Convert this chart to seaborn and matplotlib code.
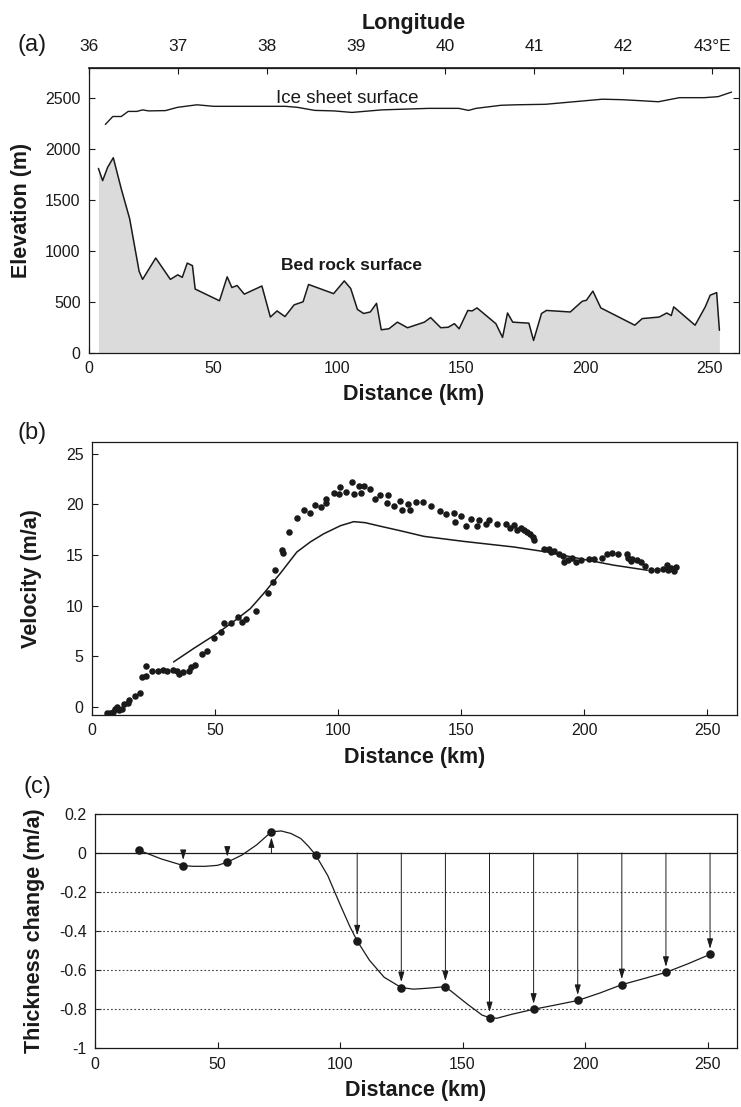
import numpy as np
import matplotlib
matplotlib.use("Agg")
import matplotlib.pyplot as plt
import seaborn as sns

# (a) elevation profiles
ice_km = [6.6, 9.6, 13, 15.8, 19.3, 21.6, 24, 30.8, 35.7, 43.5, 50.3, 79.3, 84, 91, 98.7, 106, 118,
          137, 149, 153, 156, 166, 172, 184, 195.5, 207, 215, 222.5, 229.5, 238, 248, 253.6, 259]
ice_m = [2242, 2320, 2320, 2370, 2370, 2385, 2375, 2378, 2410, 2435, 2420, 2420, 2410, 2380, 2375, 2360, 2385,
         2400, 2400, 2380, 2400, 2430, 2435, 2440, 2465, 2490, 2485, 2475, 2465, 2505, 2505, 2515, 2560]
bed_km = [3.8, 5.5, 7.5, 9.8, 13.0, 16.4, 20.2, 21.6, 26.9, 32.8, 35.8, 37.6, 39.6, 41.7, 42.8, 52.6, 55.7,
          57.6, 59.7, 62.6, 69.7, 73.1, 75.8, 79.0, 82.7, 86.3, 88.5, 98.6, 102.9, 105.5, 108.2, 110.7, 113.4,
          115.9, 117.8, 120.9, 124.3, 128.4, 135.2, 137.7, 141.8, 144.8, 147.3, 149.2, 152.7, 154.4, 156.4,
          164.0, 166.7, 168.7, 170.8, 177.3, 179.2, 182.4, 184.4, 194.0, 198.8, 200.5, 203.1, 206.3, 220.0,
          223.0, 229.8, 232.9, 234.7, 235.7, 244.3, 248.4, 250.4, 253.0, 254.1]
bed_m = [1810, 1690, 1820, 1915, 1610, 1315, 800, 720, 930, 720, 765, 740, 880, 855, 625, 510, 745,
         640, 660, 575, 655, 350, 410, 355, 470, 500, 670, 580, 705, 630, 425, 385, 400,
         485, 225, 235, 300, 245, 300, 345, 245, 250, 285, 235, 415, 410, 440,
         285, 150, 390, 300, 290, 120, 385, 415, 400, 505, 515, 605, 440, 270,
         335, 350, 390, 365, 450, 270, 450, 565, 590, 220]
lon_ticks = [36, 37, 38, 39, 40, 41, 42, 43]
lon_labels = ["36", "37", "38", "39", "40", "41", "42", "43\u00b0E"]
KM_PER_DEG = 35.9

# (b) velocity: observed points and model line
obs_km = [6.2, 7.3, 8.7, 9.35, 10.3, 11.1, 12.1, 13.0, 14.8, 15.2, 17.5, 19.5, 20.2, 22, 22, 24.3, 26.6,
          28.7, 30.6, 32.8, 34.7, 35.5, 36.9, 39.2, 40.3, 41.9, 44.6, 46.9, 49.6, 52.3, 53.7, 56.4, 59.1,
          60.9, 62.6, 66.6, 71.3, 73.7, 74.4, 77.1, 77.6, 80.2, 83.2, 86.3, 88.6, 90.7, 92.9, 95, 95, 98.1,
          100.2, 100.8, 103.3, 105.6, 106.5, 108.3, 109.3, 110.3, 113.1, 115.1, 117.1, 120.1, 119.8, 122.5,
          125, 125.9, 128.2, 129.3, 131.4, 134.5, 137.5, 141.5, 143.8, 146.9, 147.6, 149.7, 152.1, 154,
          156.4, 157.1, 160.2, 161.2, 164.6, 168, 169.7, 171.3, 172.7, 174.1, 175.4, 176.8, 178.1, 179.2,
          179.7, 183.5, 185.6, 186.3, 187.6, 189.6, 191.4, 191.7, 193.3, 195.1, 196.8, 198.5, 201.8, 203.9,
          207.3, 209.3, 211.3, 213.6, 217.2, 217.7, 218.8, 219.5, 221.2, 223.1, 224.5, 227.2, 229.4, 232.1,
          233.4, 234, 235.3, 236.4, 237.1]
obs_vel = [-0.65, -0.6, -0.5, -0.16, 0, -0.3, -0.2, 0.27, 0.4, 0.72, 1.05, 1.38, 2.96, 3.03, 4.05, 3.52, 3.52,
           3.69, 3.52, 3.69, 3.55, 3.23, 3.46, 3.55, 3.95, 4.18, 5.2, 5.5, 6.78, 7.44, 8.3, 8.3, 8.9,
           8.4, 8.73, 9.48, 11.25, 12.3, 13.56, 15.47, 15.2, 17.27, 18.7, 19.5, 19.15, 19.9, 19.74, 20.14, 20.57, 21.1,
           21.07, 21.7, 21.2, 22.2, 21.0, 21.8, 21.1, 21.8, 21.56, 20.57, 20.9, 20.9, 20.14, 19.8,
           20.3, 19.5, 20.0, 19.5, 20.24, 20.24, 19.8, 19.35, 19.1, 19.2, 18.3, 18.85, 17.84, 18.53,
           17.84, 18.43, 18.1, 18.43, 18.1, 18.03, 17.67, 17.97, 17.44, 17.7, 17.5, 17.3, 17.1, 16.8,
           16.5, 15.6, 15.6, 15.3, 15.4, 15.14, 14.88, 14.3, 14.5, 14.7, 14.3, 14.5, 14.65, 14.65,
           14.7, 15.07, 15.2, 15.14, 15.07, 14.7, 14.45, 14.6, 14.5, 14.35, 13.9, 13.5, 13.5, 13.6,
           14.0, 13.5, 13.75, 13.4, 13.8]
model_km = [33.1, 41.2, 50.7, 58.2, 64.3, 69.7, 76.5, 83.2, 88.7, 94.1, 100.9, 106.3, 111, 117.1, 125.3,
            134.8, 151, 171.3, 184.9, 201.2, 212, 225.6]
model_vel = [4.44, 5.76, 7.24, 8.56, 9.71, 11.2, 13.2, 15.3, 16.3, 17.1, 17.9, 18.3, 18.2, 17.85, 17.4,
             16.85, 16.35, 15.8, 15.3, 14.5, 14.0, 13.5]

# (c) thickness change at stations, and the drawn curve
stn_km = [18, 36, 54, 72, 90, 107, 125, 143, 161, 179, 197, 215, 233, 251]
stn_dh = [0.014, -0.064, -0.047, 0.109, -0.009, -0.45, -0.689, -0.684, -0.843, -0.80, -0.755, -0.674, -0.611, -0.519]
curve_km = [18, 27, 36, 40, 45, 50, 54, 60, 66, 72, 76, 80, 84, 87, 90, 95, 100, 104, 107, 112, 118, 125,
            130, 136, 143, 152, 158, 161, 164, 170, 179, 188, 197, 206, 215, 224, 233, 242, 251]
curve_dh = [0.014, -0.03, -0.064, -0.068, -0.068, -0.063, -0.047, -0.01, 0.042, 0.109, 0.113, 0.10, 0.074,
            0.036, -0.009, -0.116, -0.263, -0.376, -0.45, -0.549, -0.636, -0.689, -0.697, -0.692, -0.684,
            -0.774, -0.83, -0.843, -0.846, -0.826, -0.80, -0.778, -0.755, -0.717, -0.674, -0.643, -0.611,
            -0.567, -0.519]
dh_ticks = [0.2, 0, -0.2, -0.4, -0.6, -0.8, -1]
dh_labels = ["0.2", "0", "-0.2", "-0.4", "-0.6", "-0.8", "-1"]
dotted_levels = [-0.2, -0.4, -0.6, -0.8]

sns.set_theme(style="ticks")
plt.rcParams["font.family"] = ["Liberation Sans", "DejaVu Sans"]
plt.rcParams["axes.unicode_minus"] = False
plt.rcParams["text.color"] = "k"
plt.rcParams["axes.labelcolor"] = "k"
LAB = dict(fontsize=15.5, fontweight="bold", color="k")

fig = plt.figure(figsize=(7.41, 11.07), dpi=100)
ax_a = fig.add_axes([0.1201, 0.6814, 0.8772, 0.2575])
ax_b = fig.add_axes([0.1242, 0.3541, 0.8704, 0.2469])
ax_c = fig.add_axes([0.1282, 0.0530, 0.8664, 0.2117])

for ax in (ax_a, ax_b, ax_c):
    for s in ax.spines.values():
        s.set_visible(True)
        s.set_linewidth(0.9)
        s.set_color("k")
    ax.tick_params(direction="in", length=4, width=0.8, labelsize=11.5, colors="k", pad=6)
    ax.set_xlim(0, 262)
    ax.set_xticks([0, 50, 100, 150, 200, 250])

# ---- (a)
ax_a.fill_between(bed_km, 0, bed_m, color="0.86", lw=0)
sns.lineplot(x=bed_km, y=bed_m, ax=ax_a, color="k", lw=1.1, estimator=None)
sns.lineplot(x=ice_km, y=ice_m, ax=ax_a, color="k", lw=1.0, estimator=None)
ax_a.set_ylim(0, 2800)
ax_a.set_yticks([0, 500, 1000, 1500, 2000, 2500])
ax_a.tick_params(axis="y", right=True)
ax_a.text(104, 2500, "Ice sheet surface", ha="center", va="center", fontsize=13.5)
ax_a.text(106, 860, "Bed rock surface", ha="center", va="center", fontsize=12.5, fontweight="bold")
ax_a.set_xlabel("Distance (km)", labelpad=6, **LAB)
ax_a.set_ylabel("Elevation (m)", **LAB)
ax_a.yaxis.set_label_coords(-0.088, 0.5)
sec = ax_a.secondary_xaxis("top", functions=(lambda k: 36 + np.asarray(k) / KM_PER_DEG,
                                             lambda l: (np.asarray(l) - 36) * KM_PER_DEG))
sec.set_xticks(lon_ticks)
sec.set_xticklabels(lon_labels)
sec.tick_params(direction="in", length=4, width=0.8, labelsize=12.5, pad=10, colors="k")
sec.set_xlabel("Longitude", labelpad=7, **LAB)

# ---- (b)
sns.scatterplot(x=obs_km, y=obs_vel, ax=ax_b, color="k", s=22, linewidth=0)
sns.lineplot(x=model_km, y=model_vel, ax=ax_b, color="k", lw=1.1, estimator=None)
ax_b.set_ylim(-0.8, 26.2)
ax_b.set_yticks([0, 5, 10, 15, 20, 25])
ax_b.set_xlabel("Distance (km)", labelpad=6, **LAB)
ax_b.set_ylabel("Velocity (m/a)", **LAB)
ax_b.yaxis.set_label_coords(-0.078, 0.5)

# ---- (c)
for lev in dotted_levels:
    ax_c.axhline(lev, color="0.25", lw=0.8, ls=(0, (1.5, 2)))
ax_c.axhline(0, color="k", lw=0.9)
for x, v in zip(stn_km, stn_dh):
    if abs(v) > 0.03:
        ax_c.annotate("", xy=(x, v), xytext=(x, 0),
                      arrowprops=dict(arrowstyle="-|>,head_length=0.5,head_width=0.15",
                                      color="k", lw=0.7, shrinkA=0, shrinkB=4))
sns.lineplot(x=curve_km, y=curve_dh, ax=ax_c, color="k", lw=0.9, estimator=None)
sns.scatterplot(x=stn_km, y=stn_dh, ax=ax_c, color="k", s=38, linewidth=0, zorder=5)
ax_c.set_ylim(-1, 0.2)
ax_c.set_yticks(dh_ticks)
ax_c.set_yticklabels(dh_labels)
ax_c.set_xlabel("Distance (km)", labelpad=6, **LAB)
ax_c.set_ylabel("Thickness change (m/a)", **LAB)
ax_c.yaxis.set_label_coords(-0.078, 0.5)

for lab, (x, y) in zip(["(a)", "(b)", "(c)"], [(32, 45), (32, 433), (37, 787)]):
    fig.text(x / 741, 1 - y / 1107, lab, fontsize=17, ha="center", va="center", color="k")

fig.savefig("out.png", dpi=100)
